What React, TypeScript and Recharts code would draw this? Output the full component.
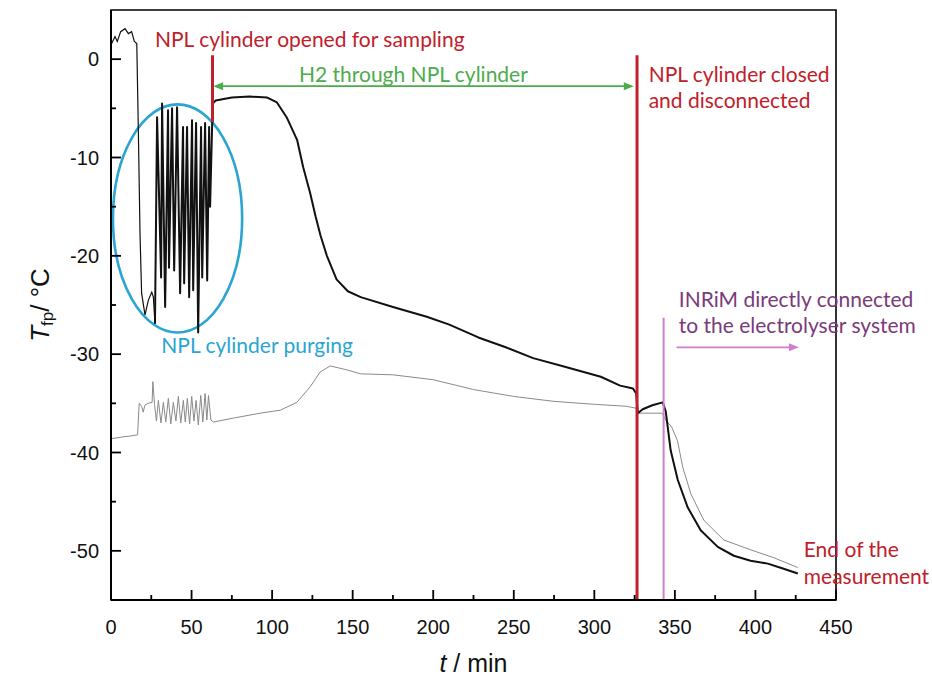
import React from 'react';
import {
  LineChart,
  Line,
  XAxis,
  YAxis,
  ReferenceLine,
  ReferenceArea,
  ReferenceDot,
} from 'recharts';

// [t / min, Tfp / °C]
const startTrace = [
  [0.4, 1.6], [2.5, 2.3], [3.9, 1.8], [6, 2.8], [8.7, 3.1], [10.8, 2.6], [12.8, 2.8],
  [14.5, 1.8], [16, 1.6], [17, -7.5], [18, -17.7], [19, -23.8], [21.1, -26], [23.2, -24.5],
  [25.3, -23.7], [26.3, -24.2], [27.3, -26.9],
];

const mainTrace = [
  [27.3, -26.9], [28.6, -5.9], [31.1, -22.2], [31.7, -4.5], [33.6, -25.2], [35.4, -5.2],
  [36, -21.2], [37.9, -5.0], [39.2, -21.5], [41, -4.9], [42.9, -23.8], [44.7, -6.9],
  [45.4, -22.8], [47.2, -6.9], [48.5, -24.2], [50.3, -6.2], [51, -23.5], [52.8, -6.5],
  [54.1, -27.8], [55.9, -6.9], [56.6, -22.2], [58.4, -6.5], [59.7, -22.5], [60.9, -6.9],
  [61.5, -15], [62.8, -6.5], [63.3, -4.5], [65, -4.2], [75, -3.9], [86, -3.8], [97, -3.9],
  [103, -4.4], [109, -5.9], [115.5, -8.2], [119.3, -11], [123.6, -13.6], [127, -16],
  [130, -17.9], [134, -20], [140, -22.4], [147, -23.6], [155, -24.2], [175, -25.2],
  [196, -26.2], [210, -27], [228, -28.3], [245, -29.3], [262, -30.4], [280, -31.2],
  [304, -32.3], [316, -33.2], [324, -33.5], [326, -34], [327, -36], [330, -35.6],
  [336, -35.2], [342.4, -34.9], [344.3, -35.8], [347.4, -39.8], [351.8, -42.8], [358, -45.6],
  [366, -47.9], [376.6, -49.6], [386.6, -50.5], [397, -51], [407.7, -51.3], [417, -51.8],
  [426.3, -52.3],
];

const refTrace = [
  [0, -38.6], [8, -38.4], [13, -38.3], [16.5, -38.2], [17.5, -35], [19, -35.3], [20, -35.9],
  [21, -35.2], [23, -35], [25.5, -34.9], [26, -32.8], [27, -35.1], [28.2, -36.8], [29.4, -34.7],
  [31, -37], [32.5, -34.9], [34, -36.9], [35.6, -34.5], [37.1, -37.1], [38.7, -34.9],
  [40.3, -36.8], [41.8, -34.3], [43.3, -37], [44.9, -34.7], [46.1, -36.9], [47.4, -34.5],
  [48.8, -37.1], [50.1, -34.3], [51.5, -36.8], [52.8, -34.7], [54.2, -37.2], [55.7, -34.2],
  [57, -36.9], [58.4, -34], [59.5, -36.7], [60.5, -34.2], [62, -36.7], [63.6, -36.9],
  [76, -36.5], [92.6, -36], [105, -35.7], [115.4, -34.9], [123.7, -33.3], [129.9, -31.8],
  [136.1, -31.2], [146.5, -31.6], [154.8, -32], [175, -32.1], [200, -32.6], [225, -33.6],
  [250, -34.3], [275, -34.8], [300, -35.1], [320, -35.3], [326, -35.5], [327, -36], [342, -36],
  [344.3, -36.7], [348, -37.4], [351.6, -38.8], [354.9, -41.5], [359.9, -44.2], [368, -46.9],
  [380.4, -48.9], [397.1, -49.9], [411.4, -50.7], [426.3, -51.7],
];

const xDomain = [0, 450];
const yDomain = [-55, 5];
const xTicks = [0, 25, 50, 75, 100, 125, 150, 175, 200, 225, 250, 275, 300, 325, 350, 375, 400, 425, 450];
const yTicks = [-50, -45, -40, -35, -30, -25, -20, -15, -10, -5, 0];

// events on the time axis
const openedAt = 63;
const closedAt = 326.5;
const inrimAt = 343;

const RED = '#c0202a';
const GREEN = '#4cac4c';
const CYAN = '#2aa5d2';
const PURPLE = '#7a3a7a';
const PINK = '#d07ed0';

// chart geometry
const W = 932;
const H = 680;
const margin = { top: 10, right: 96, bottom: 0, left: 0 };
const Y_AXIS_W = 111;
const X_AXIS_H = 80;

const toPoints = (rows: number[][]) => rows.map(([t, T]) => ({ t, T }));

const TICK_FONT = '"Liberation Sans", Arial, sans-serif';
const NOTE_FONT = 'Lato, "Open Sans", sans-serif';

function XTick({ x, y, payload }: any) {
  if (payload.value % 50 !== 0) return null;
  return (
    <text x={x} y={y + 27} textAnchor="middle" dominantBaseline="central"
      fontSize={20} fontFamily={TICK_FONT} fill="#111">
      {payload.value}
    </text>
  );
}

function YTick({ x, y, payload }: any) {
  if (payload.value % 10 !== 0) return null;
  return (
    <text x={x - 12} y={y} textAnchor="end" dominantBaseline="central"
      fontSize={20} fontFamily={TICK_FONT} fill="#111">
      {payload.value}
    </text>
  );
}

// inward major/minor tick marks, laid over the chart on the plot edges
function TickMarks() {
  const left = margin.left + Y_AXIS_W;
  const right = W - margin.right;
  const top = margin.top;
  const bottom = H - margin.bottom - X_AXIS_H;
  const px = (t: number) => left + ((t - xDomain[0]) / (xDomain[1] - xDomain[0])) * (right - left);
  const py = (v: number) => bottom - ((v - yDomain[0]) / (yDomain[1] - yDomain[0])) * (bottom - top);
  return (
    <svg width={W} height={H}
      style={{ position: 'absolute', left: 0, top: 0, pointerEvents: 'none' }}>
      {xTicks.map((t) => (
        <rect key={`x${t}`} x={px(t) - 0.9} y={bottom - (t % 50 === 0 ? 10 : 5)}
          width={1.8} height={t % 50 === 0 ? 10 : 5} fill="#000" />
      ))}
      {yTicks.map((v) => (
        <rect key={`y${v}`} x={left} y={py(v) - 0.9}
          width={v % 10 === 0 ? 10 : 5} height={1.8} fill="#000" />
      ))}
    </svg>
  );
}

function YTitle({ viewBox }: any) {
  const cx = viewBox.x + 40;
  const cy = viewBox.y + viewBox.height / 2;
  return (
    <text transform={`translate(${cx},${cy}) rotate(-90)`} textAnchor="middle"
      dominantBaseline="central" fontSize={26} fontFamily={TICK_FONT} fill="#111">
      <tspan fontStyle="italic">T</tspan>
      <tspan fontSize={17} dy={7}>fp</tspan>
      <tspan dy={-7}>/ °C</tspan>
    </text>
  );
}

function XTitle({ viewBox }: any) {
  const cx = viewBox.x + viewBox.width / 2;
  const cy = viewBox.y + 63;
  return (
    <text x={cx} y={cy} textAnchor="middle" dominantBaseline="central"
      fontSize={25} fontFamily={TICK_FONT} fill="#111">
      <tspan fontStyle="italic">t</tspan>
      <tspan> / min</tspan>
    </text>
  );
}

const note = (lines: string[], color: string, anchor: 'start' | 'middle' = 'start', gap = 26) =>
  ({ cx, cy }: any) => (
    <text x={cx} y={cy} fill={color} fontSize={21} fontFamily={NOTE_FONT}
      textAnchor={anchor} dominantBaseline="central">
      {lines.map((line, i) => (
        <tspan key={i} x={cx} dy={i === 0 ? 0 : gap}>{line}</tspan>
      ))}
    </text>
  );

const arrow = (color: string, both: boolean) => ({ x1, y1, x2, y2 }: any) => {
  const head = (x: number, y: number, dir: number) =>
    `${x},${y} ${x - dir * 10},${y - 4} ${x - dir * 10},${y + 4}`;
  const left = Math.min(x1, x2);
  const right = Math.max(x1, x2);
  return (
    <g>
      <line x1={left + (both ? 6 : 0)} y1={y1} x2={right - 6} y2={y2} stroke={color} strokeWidth={1.8} />
      <polygon points={head(right, y2, 1)} fill={color} />
      {both && <polygon points={head(left, y1, -1)} fill={color} />}
    </g>
  );
};

const ellipse = ({ x, y, width, height }: any) => (
  <ellipse cx={x + width / 2} cy={y + height / 2} rx={Math.abs(width) / 2} ry={Math.abs(height) / 2}
    fill="none" stroke={CYAN} strokeWidth={2.6} />
);

const axisLine = { stroke: '#000', strokeWidth: 2 };

export default function App() {
  return (
    <div style={{ position: 'absolute', left: 0, top: 0, width: W, height: H, background: '#fff' }}>
      <LineChart width={W} height={H} margin={margin}>
        <XAxis
          type="number"
          dataKey="t"
          domain={xDomain}
          ticks={xTicks}
          interval={0}
          height={X_AXIS_H}
          tickSize={0}
          tickMargin={0}
          tickLine={false}
          tick={<XTick />}
          axisLine={axisLine}
          label={(props: any) => <XTitle {...props} />}
        />
        <YAxis
          type="number"
          dataKey="T"
          domain={yDomain}
          ticks={yTicks}
          interval={0}
          width={Y_AXIS_W}
          tickSize={0}
          tickMargin={0}
          tickLine={false}
          tick={<YTick />}
          axisLine={axisLine}
          label={(props: any) => <YTitle {...props} />}
        />

        {/* plot frame */}
        <ReferenceArea x1={xDomain[0]} x2={xDomain[1]} y1={yDomain[0]} y2={yDomain[1]}
          fill="none" stroke="#000" strokeWidth={1.6} />

        <Line data={toPoints(refTrace)} dataKey="T" type="linear" stroke="#8a8a8a" strokeWidth={1}
          dot={false} activeDot={false} isAnimationActive={false} />
        <Line data={toPoints(startTrace)} dataKey="T" type="linear" stroke="#111" strokeWidth={1.2}
          dot={false} activeDot={false} isAnimationActive={false} />
        <Line data={toPoints(mainTrace)} dataKey="T" type="linear" stroke="#111" strokeWidth={2}
          strokeLinejoin="round" dot={false} activeDot={false} isAnimationActive={false} />

        {/* purging period */}
        <ReferenceArea x1={1.2} x2={81.4} y1={-27.8} y2={-4.6} shape={ellipse} ifOverflow="visible" />

        {/* events */}
        <ReferenceLine segment={[{ x: openedAt, y: 0.4 }, { x: openedAt, y: -6.4 }]} stroke={RED} strokeWidth={3} />
        <ReferenceLine segment={[{ x: closedAt, y: 0.4 }, { x: closedAt, y: -55 }]} stroke={RED} strokeWidth={3} />
        <ReferenceLine segment={[{ x: inrimAt, y: -26.3 }, { x: inrimAt, y: -55 }]} stroke={PINK} strokeWidth={2} />
        <ReferenceLine segment={[{ x: 63.4, y: -2.75 }, { x: 324.5, y: -2.75 }]} shape={arrow(GREEN, true)} />
        <ReferenceLine segment={[{ x: 351, y: -29.3 }, { x: 427, y: -29.3 }]} shape={arrow(PINK, false)} />

        <ReferenceDot x={27.3} y={2.2} r={0} shape={note(['NPL cylinder opened for sampling'], RED)} />
        <ReferenceDot x={187.7} y={-1.4} r={0} shape={note(['H2 through NPL cylinder'], GREEN, 'middle')} />
        <ReferenceDot x={333.7} y={-1.4} r={0} shape={note(['NPL cylinder closed', 'and disconnected'], RED)} />
        <ReferenceDot x={90.7} y={-29} r={0} shape={note(['NPL cylinder purging'], CYAN, 'middle')} />
        <ReferenceDot x={352.4} y={-24.3} r={0}
          shape={note(['INRiM directly connected', 'to the electrolyser system'], PURPLE)} />
        <ReferenceDot x={430} y={-49.7} r={0} shape={note(['End of the', 'measurement'], RED, 'start', 27)} />
      </LineChart>
      <TickMarks />
    </div>
  );
}
